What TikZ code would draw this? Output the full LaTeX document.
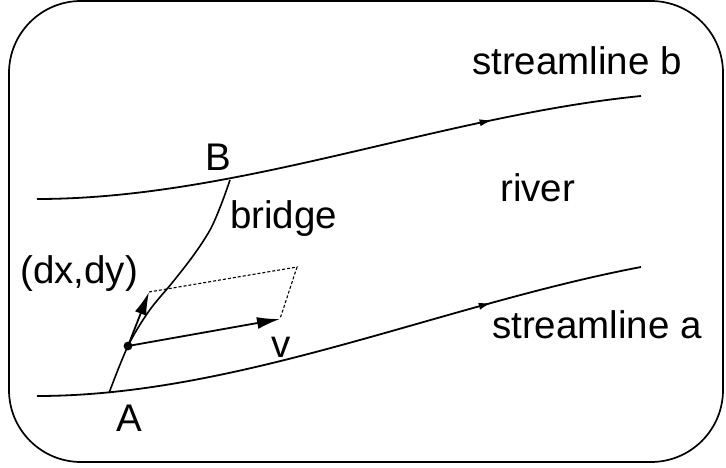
\documentclass[tikz,border=0pt]{standalone}
\usepackage{fontspec}
\setmainfont{Liberation Sans}
\usetikzlibrary{arrows.meta,decorations.markings}
\begin{document}
\begin{tikzpicture}[x=1pt,y=-1pt,
  line/.style={line width=1.8pt},
  lbl/.style={inner sep=0pt,anchor=base west,font=\fontsize{38.5}{42}\selectfont},
  streamarrow/.style={postaction={decorate},decoration={markings,mark=at position #1 with {\arrow{Latex[length=13pt,width=7pt]}}}},
  vec/.style={line width=1.8pt,-{Latex[length=23pt,width=12pt]}}]
\useasboundingbox (0,0) rectangle (726,468);
\draw[line width=1.7pt,rounded corners=72pt] (9,1) rectangle (723,462);
% streamline a
\coordinate (a0) at (37,396);
\coordinate (A) at (109,393);
\coordinate (a4) at (641,267);
\draw[line,streamarrow=0.752] (a0) .. controls (237,396) and (441,305) .. (a4);
% streamline b
\coordinate (b0) at (37,199);
\coordinate (B) at (230,180);
\coordinate (b4) at (641,96);
\draw[line,streamarrow=0.755] (b0) .. controls (237,199) and (441,116) .. (b4);
% bridge
\coordinate (P) at (128,346);
\draw[line width=1.6pt] plot[smooth,tension=0.55] coordinates {(A) (P) (149,311) (172,283) (193,256) (210,230) (221,205) (B)};
\fill (P) circle (4.4pt);
\coordinate (D) at (149,292);
\coordinate (V) at (280,319);
\coordinate (W) at (297,267);
\draw[vec] (P) -- (D);
\draw[vec] (P) -- (V);
\draw[dash pattern=on 3pt off 2pt,line width=1.1pt] (D) -- (W) -- (V);
% labels
\node[lbl] (lsb) at (472,75) {streamline b};
\node[lbl] (lsa) at (492,338) {streamline a};
\node[lbl] (lB) at (205,171) {B};
\node[lbl] (lbr) at (230,228) {bridge};
\node[lbl] (lriv) at (500,201) {river};
\node[lbl] (ldx) at (20,283) {(dx,dy)};
\node[lbl] (lv) at (271,357) {v};
\node[lbl] (lA) at (116,431) {A};
\end{tikzpicture}
\end{document}
